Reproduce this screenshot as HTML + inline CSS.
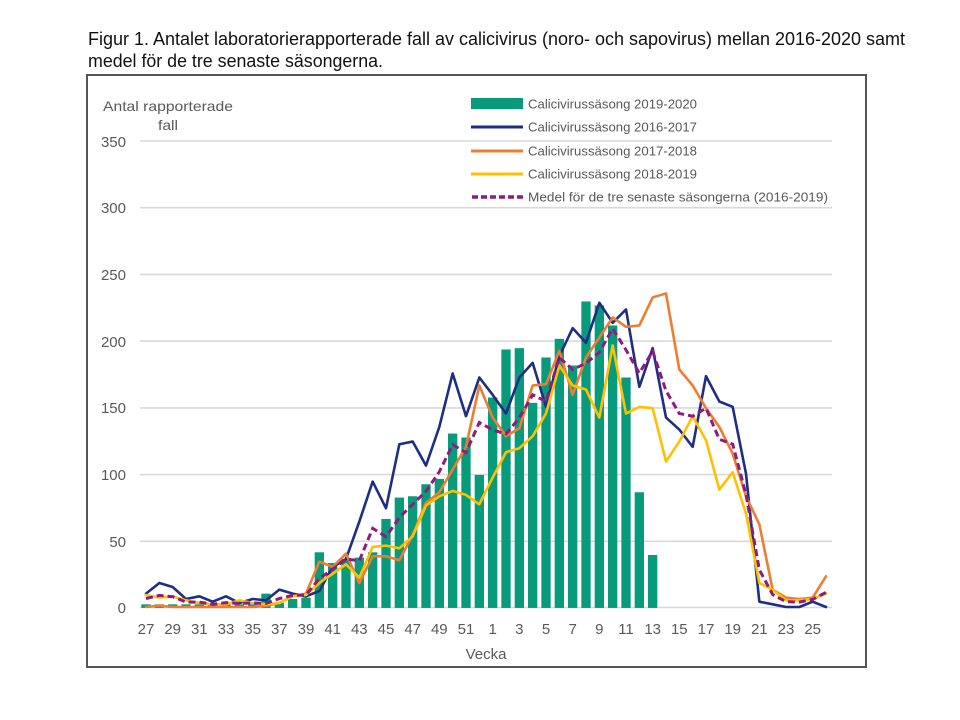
<!DOCTYPE html>
<html><head><meta charset="utf-8"><style>
html,body{margin:0;padding:0;background:#fff;}
svg{display:block;}
</style></head><body>
<svg width="960" height="720" viewBox="0 0 960 720" xmlns="http://www.w3.org/2000/svg" font-family="'Liberation Sans', 'DejaVu Sans', sans-serif">
<rect width="960" height="720" fill="#fff"/>
<!-- title -->
<text x="88" y="45" font-size="18" fill="#111" textLength="817" lengthAdjust="spacingAndGlyphs">Figur 1. Antalet laboratorierapporterade fall av calicivirus (noro- och sapovirus) mellan 2016-2020 samt</text>
<text x="88" y="67" font-size="18" fill="#111" textLength="295" lengthAdjust="spacingAndGlyphs">medel för de tre senaste säsongerna.</text>
<!-- box -->
<rect x="87" y="75" width="779" height="592" fill="none" stroke="#555" stroke-width="2"/>
<!-- gridlines -->
<g stroke="#d9d9d9" stroke-width="1.6">
<line x1="140" x2="832" y1="141" y2="141"/>
<line x1="140" x2="832" y1="207.7" y2="207.7"/>
<line x1="140" x2="832" y1="274.4" y2="274.4"/>
<line x1="140" x2="832" y1="341.1" y2="341.1"/>
<line x1="140" x2="832" y1="407.9" y2="407.9"/>
<line x1="140" x2="832" y1="474.6" y2="474.6"/>
<line x1="140" x2="832" y1="541.3" y2="541.3"/>
<line x1="140" x2="832" y1="607.5" y2="607.5"/>
</g>
<!-- y labels -->
<g font-size="15" fill="#595959" text-anchor="end">
<text x="126" y="147">350</text>
<text x="126" y="213">300</text>
<text x="126" y="280">250</text>
<text x="126" y="347">200</text>
<text x="126" y="413">150</text>
<text x="126" y="480">100</text>
<text x="126" y="547">50</text>
<text x="126" y="613">0</text>
</g>
<text x="103" y="111" font-size="14" fill="#595959" textLength="130" lengthAdjust="spacingAndGlyphs">Antal rapporterade</text>
<text x="158" y="130" font-size="14" fill="#595959" textLength="20" lengthAdjust="spacingAndGlyphs">fall</text>
<!-- x labels -->
<g font-size="15" fill="#595959" text-anchor="middle">
<text x="146" y="634">27</text>
<text x="172.7" y="634">29</text>
<text x="199.3" y="634">31</text>
<text x="226" y="634">33</text>
<text x="252.7" y="634">35</text>
<text x="279.3" y="634">37</text>
<text x="306" y="634">39</text>
<text x="332.7" y="634">41</text>
<text x="359.3" y="634">43</text>
<text x="386" y="634">45</text>
<text x="412.7" y="634">47</text>
<text x="439.3" y="634">49</text>
<text x="466" y="634">51</text>
<text x="492.7" y="634">1</text>
<text x="519.3" y="634">3</text>
<text x="546" y="634">5</text>
<text x="572.7" y="634">7</text>
<text x="599.3" y="634">9</text>
<text x="626" y="634">11</text>
<text x="652.7" y="634">13</text>
<text x="679.3" y="634">15</text>
<text x="706" y="634">17</text>
<text x="732.7" y="634">19</text>
<text x="759.3" y="634">21</text>
<text x="786" y="634">23</text>
<text x="812.7" y="634">25</text>
</g>
<text x="486" y="659" font-size="15" fill="#595959" text-anchor="middle">Vecka</text>

<!-- data group: x = week index, y = value -->
<g transform="matrix(13.3333,0,0,-1.3343,146,607)">
<g fill="#079b7b">
<rect x="-0.35" y="-0.7" width="0.7" height="2.7"/>
<rect x="0.65" y="-0.7" width="0.7" height="2.7"/>
<rect x="1.65" y="-0.7" width="0.7" height="2.7"/>
<rect x="2.65" y="-0.7" width="0.7" height="2.7"/>
<rect x="3.65" y="-0.7" width="0.7" height="2.7"/>
<rect x="4.65" y="-0.7" width="0.7" height="2.7"/>
<rect x="5.65" y="-0.7" width="0.7" height="2.7"/>
<rect x="6.65" y="-0.7" width="0.7" height="2.7"/>
<rect x="7.65" y="-0.7" width="0.7" height="2.7"/>
<rect x="8.65" y="-0.7" width="0.7" height="10.7"/>
<rect x="9.65" y="-0.7" width="0.7" height="3.7"/>
<rect x="10.65" y="-0.7" width="0.7" height="6.7"/>
<rect x="11.65" y="-0.7" width="0.7" height="7.7"/>
<rect x="12.65" y="-0.7" width="0.7" height="41.7"/>
<rect x="13.65" y="-0.7" width="0.7" height="33.7"/>
<rect x="14.65" y="-0.7" width="0.7" height="36.7"/>
<rect x="15.65" y="-0.7" width="0.7" height="37.7"/>
<rect x="16.65" y="-0.7" width="0.7" height="41.7"/>
<rect x="17.65" y="-0.7" width="0.7" height="66.7"/>
<rect x="18.65" y="-0.7" width="0.7" height="82.7"/>
<rect x="19.65" y="-0.7" width="0.7" height="83.7"/>
<rect x="20.65" y="-0.7" width="0.7" height="92.7"/>
<rect x="21.65" y="-0.7" width="0.7" height="96.7"/>
<rect x="22.65" y="-0.7" width="0.7" height="130.7"/>
<rect x="23.65" y="-0.7" width="0.7" height="127.7"/>
<rect x="24.65" y="-0.7" width="0.7" height="99.7"/>
<rect x="25.65" y="-0.7" width="0.7" height="157.7"/>
<rect x="26.65" y="-0.7" width="0.7" height="193.7"/>
<rect x="27.65" y="-0.7" width="0.7" height="194.7"/>
<rect x="28.65" y="-0.7" width="0.7" height="153.7"/>
<rect x="29.65" y="-0.7" width="0.7" height="187.7"/>
<rect x="30.65" y="-0.7" width="0.7" height="201.7"/>
<rect x="31.65" y="-0.7" width="0.7" height="181.7"/>
<rect x="32.65" y="-0.7" width="0.7" height="229.7"/>
<rect x="33.65" y="-0.7" width="0.7" height="226.7"/>
<rect x="34.65" y="-0.7" width="0.7" height="211.7"/>
<rect x="35.65" y="-0.7" width="0.7" height="172.7"/>
<rect x="36.65" y="-0.7" width="0.7" height="86.7"/>
<rect x="37.65" y="-0.7" width="0.7" height="39.7"/>
</g>
<g fill="none" stroke-width="2.6" stroke-linejoin="round" stroke-linecap="round" vector-effect="non-scaling-stroke">
<polyline vector-effect="non-scaling-stroke" stroke="#1f2e85" points="0,10 1,18 2,15 3,6 4,8 5,4 6,8 7,3 8,6 9,5 10,13 11,10 12,8 13,12 14,30 15,36 16,64 17,94 18,74 19,122 20,124 21,106 22,135 23,175 24,143 25,172 26,159 27,145 28,172 29,183 30,150 31,188 32,209 33,198 34,228 35,213 36,223 37,165 38,194 39,142 40,133 41,120 42,173 43,154 44,150 45,100 46,4 47,2 48,0 49,0 50,4 51,0"/>
<polyline vector-effect="non-scaling-stroke" stroke="#ed7d31" points="0,0 1,1 2,0 3,0 4,0 5,0 6,0 7,0 8,0 9,1 10,3 11,8 12,10 13,34 14,30 15,40 16,18 17,38 18,38 19,35 20,54 21,78 22,86 23,103 24,120 25,166 26,142 27,128 28,134 29,166 30,167 31,192 32,159 33,187 34,202 35,217 36,210 37,211 38,232 39,235 40,178 41,166 42,149 43,135 44,115 45,83 46,62 47,13 48,7 49,6 50,7 51,23"/>
<polyline vector-effect="non-scaling-stroke" stroke="#ffc000" points="0,9 1,7 2,8 3,5 4,3 5,2 6,2 7,5 8,3 9,2 10,3 11,8 12,9 13,18 14,25 15,32 16,22 17,45 18,46 19,44 20,53 21,76 22,83 23,87 24,84 25,77 26,97 27,116 28,119 29,128 30,145 31,181 32,166 33,163 34,142 35,196 36,145 37,150 38,149 39,109 40,124 41,143 42,125 43,88 44,101 45,70 46,18 47,13 48,5 49,5 50,6 51,10"/>
</g>
</g>
<polyline fill="none" stroke="#8e1b7e" stroke-width="3" stroke-dasharray="7,4" points="146,598.6 159.3,595.4 172.7,596.7 186,602.1 199.3,602.1 212.7,604.3 226,602.6 239.3,603.4 252.7,603 266,603.4 279.3,598.6 292.7,595.4 306,595 319.3,578.6 332.7,569.2 346,559 359.3,560.7 372.7,528.3 386,536.7 399.3,517.6 412.7,504.3 426,491.3 439.3,471.8 452.7,444.6 466,452.6 479.3,422.5 492.7,429.9 506,433.9 519.3,417.9 532.7,394.8 546,401.5 559.3,357.5 572.7,369.5 586,363.2 599.3,352.5 612.7,328.5 626,349.9 639.3,373.1 652.7,351.2 666,390.8 679.3,413.5 692.7,416.2 706,408.2 719.3,439.3 732.7,444.2 746,494.5 759.3,569.6 772.7,594.6 786,601.7 799.3,602.1 812.7,599.4 826,592.3"/>

<!-- legend -->
<rect x="471" y="98" width="52" height="11" fill="#079b7b"/>
<line x1="471" x2="523" y1="127" y2="127" stroke="#1f2e85" stroke-width="3"/>
<line x1="471" x2="523" y1="151" y2="151" stroke="#ed7d31" stroke-width="3"/>
<line x1="471" x2="523" y1="174" y2="174" stroke="#ffc000" stroke-width="3"/>
<line x1="472" x2="523" y1="197" y2="197" stroke="#8e1b7e" stroke-width="3.5" stroke-dasharray="6,3"/>
<g font-size="13" fill="#595959">
<text x="528" y="108.5" textLength="169" lengthAdjust="spacingAndGlyphs">Calicivirussäsong 2019-2020</text>
<text x="528" y="131.5" textLength="169" lengthAdjust="spacingAndGlyphs">Calicivirussäsong 2016-2017</text>
<text x="528" y="155.5" textLength="169" lengthAdjust="spacingAndGlyphs">Calicivirussäsong 2017-2018</text>
<text x="528" y="178.5" textLength="169" lengthAdjust="spacingAndGlyphs">Calicivirussäsong 2018-2019</text>
<text x="528" y="201.5" textLength="300" lengthAdjust="spacingAndGlyphs">Medel för de tre senaste säsongerna (2016-2019)</text>
</g>
</svg>
</body></html>
